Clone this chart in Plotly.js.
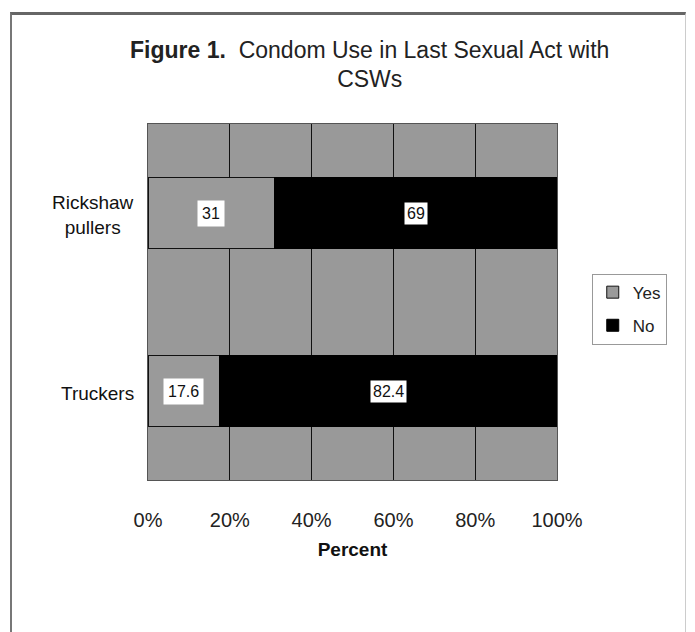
<!DOCTYPE html>
<html>
<head>
<meta charset="utf-8">
<script src="https://cdn.plot.ly/plotly-3.0.1.min.js"></script>
<style>
html,body{margin:0;padding:0;background:#fff;overflow:hidden;}
#frame{position:absolute;left:10px;top:12px;width:673px;height:640px;border-left:2px solid #777;border-top:3px solid #666;border-right:1px solid #ccc;}
#chart{position:absolute;left:0;top:0;width:695px;height:632px;}
</style>
</head>
<body>
<div id="frame"></div>
<div id="chart"></div>
<script>
const categories = ["Truckers", "Rickshaw pullers"];
const categoryLabels = ["Truckers", "Rickshaw<br>pullers"];
const yesValues = [17.6, 31];
const noValues = [82.4, 69];
const xTickVals = [0, 20, 40, 60, 80, 100];
const xTickText = ["0%", "20%", "40%", "60%", "80%", "100%"];

const FONT = "Liberation Sans, Arial, sans-serif";

const traces = [
  {type: "bar", orientation: "h", name: "Yes", legendgroup: "a", y: categories, x: yesValues,
   marker: {color: "#9a9a9a", line: {color: "#111", width: 1}}, width: 0.4, hoverinfo: "none"},
  {type: "bar", orientation: "h", name: "No", legendgroup: "b", y: categories, x: noValues,
   marker: {color: "#000000", line: {color: "#000", width: 1}}, width: 0.4, hoverinfo: "none"}
];

const annotations = [];
categories.forEach((c, i) => {
  annotations.push({x: yesValues[i] / 2, y: c, xref: "x", yref: "y", text: String(yesValues[i]),
    showarrow: false, bgcolor: "#ffffff", font: {family: FONT, size: 16, color: "#111"}, borderpad: 4});
  annotations.push({x: yesValues[i] + noValues[i] / 2, y: c, xref: "x", yref: "y", text: String(noValues[i]),
    showarrow: false, bgcolor: "#ffffff", font: {family: FONT, size: 16, color: "#111"}, borderpad: 2});
  annotations.push({x: 0, xref: "paper", xanchor: "right", xshift: -12, y: c, yref: "y", yshift: -2,
    text: categoryLabels[i], align: "center", showarrow: false,
    font: {family: FONT, size: 19, color: "#111"}});
});

const layout = {
  width: 695, height: 632,
  paper_bgcolor: "rgba(0,0,0,0)",
  plot_bgcolor: "#999999",
  barmode: "stack",
  margin: {l: 148, r: 138, t: 124, b: 152},
  title: {text: "<b>Figure 1.</b>  Condom Use in Last Sexual Act with<br>CSWs",
    font: {family: FONT, size: 23, color: "#222"}, x: 0.532, xanchor: "center", y: 0.909, yanchor: "top"},
  xaxis: {range: [0, 100], tickvals: xTickVals, ticktext: xTickText, showgrid: true,
    gridcolor: "#111", gridwidth: 1, zeroline: false, showline: true, linecolor: "#555", mirror: true,
    ticks: "", ticklabelstandoff: 22, tickfont: {family: FONT, size: 20, color: "#222"},
    title: {text: "<b>Percent</b>", font: {family: FONT, size: 19, color: "#111"}, standoff: 12}},
  yaxis: {range: [-0.5, 1.5], showticklabels: false, ticks: "", showgrid: false,
    showline: true, linecolor: "#555", mirror: true, zeroline: false},
  showlegend: true,
  legend: {x: 1.085, xanchor: "left", y: 0.48, yanchor: "middle", bordercolor: "#999", borderwidth: 1,
    bgcolor: "#fff", font: {family: FONT, size: 17, color: "#222"}, traceorder: "grouped",
    tracegroupgap: 8, itemwidth: 30},
  annotations: annotations
};

Plotly.newPlot("chart", traces, layout, {displayModeBar: false, staticPlot: true});
</script>
</body>
</html>
